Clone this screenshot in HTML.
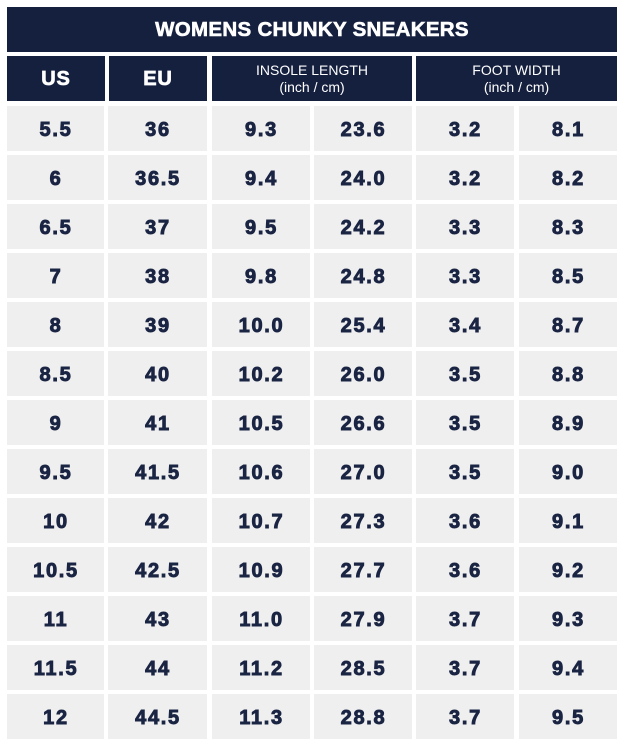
<!DOCTYPE html>
<html><head><meta charset="utf-8"><style>
html,body{margin:0;padding:0;background:#fff;}
body{width:623px;height:745px;position:relative;overflow:hidden;font-family:"Liberation Sans",Arial,sans-serif;}
.n{position:absolute;background:#15203f;color:#fff;display:flex;align-items:center;justify-content:center;text-align:center;}
.t{font-weight:bold;font-size:20.5px;letter-spacing:0.3px;-webkit-text-stroke:0.6px #fff;}
.h{font-weight:bold;font-size:20px;letter-spacing:0.8px;-webkit-text-stroke:0.7px #fff;padding-top:2px;box-sizing:border-box;}
.s{font-size:14px;line-height:17px;font-weight:normal;}
.c{position:absolute;background:#efefef;color:#1a2443;display:flex;align-items:center;justify-content:center;font-weight:bold;font-size:20px;letter-spacing:1.7px;-webkit-text-stroke:0.9px #1a2443;padding-top:4px;padding-left:1px;box-sizing:border-box;height:45px;}
</style></head><body>
<div class="n t" style="left:7px;top:7px;width:610px;height:45px;">WOMENS CHUNKY SNEAKERS</div>
<div class="n h" style="left:7px;top:56px;width:98px;height:45px;">US</div>
<div class="n h" style="left:109px;top:56px;width:98px;height:45px;">EU</div>
<div class="n s" style="left:212px;top:56px;width:200px;height:45px;">INSOLE LENGTH<br>(inch / cm)</div>
<div class="n s" style="left:416px;top:56px;width:201px;height:45px;">FOOT WIDTH<br>(inch / cm)</div>
<div class="c" style="left:7px;top:106px;width:97px">5.5</div><div class="c" style="left:108px;top:106px;width:99px">36</div><div class="c" style="left:212px;top:106px;width:98px">9.3</div><div class="c" style="left:314px;top:106px;width:98px">23.6</div><div class="c" style="left:416px;top:106px;width:98px">3.2</div><div class="c" style="left:519px;top:106px;width:98px">8.1</div>
<div class="c" style="left:7px;top:155px;width:97px">6</div><div class="c" style="left:108px;top:155px;width:99px">36.5</div><div class="c" style="left:212px;top:155px;width:98px">9.4</div><div class="c" style="left:314px;top:155px;width:98px">24.0</div><div class="c" style="left:416px;top:155px;width:98px">3.2</div><div class="c" style="left:519px;top:155px;width:98px">8.2</div>
<div class="c" style="left:7px;top:204px;width:97px">6.5</div><div class="c" style="left:108px;top:204px;width:99px">37</div><div class="c" style="left:212px;top:204px;width:98px">9.5</div><div class="c" style="left:314px;top:204px;width:98px">24.2</div><div class="c" style="left:416px;top:204px;width:98px">3.3</div><div class="c" style="left:519px;top:204px;width:98px">8.3</div>
<div class="c" style="left:7px;top:253px;width:97px">7</div><div class="c" style="left:108px;top:253px;width:99px">38</div><div class="c" style="left:212px;top:253px;width:98px">9.8</div><div class="c" style="left:314px;top:253px;width:98px">24.8</div><div class="c" style="left:416px;top:253px;width:98px">3.3</div><div class="c" style="left:519px;top:253px;width:98px">8.5</div>
<div class="c" style="left:7px;top:302px;width:97px">8</div><div class="c" style="left:108px;top:302px;width:99px">39</div><div class="c" style="left:212px;top:302px;width:98px">10.0</div><div class="c" style="left:314px;top:302px;width:98px">25.4</div><div class="c" style="left:416px;top:302px;width:98px">3.4</div><div class="c" style="left:519px;top:302px;width:98px">8.7</div>
<div class="c" style="left:7px;top:351px;width:97px">8.5</div><div class="c" style="left:108px;top:351px;width:99px">40</div><div class="c" style="left:212px;top:351px;width:98px">10.2</div><div class="c" style="left:314px;top:351px;width:98px">26.0</div><div class="c" style="left:416px;top:351px;width:98px">3.5</div><div class="c" style="left:519px;top:351px;width:98px">8.8</div>
<div class="c" style="left:7px;top:400px;width:97px">9</div><div class="c" style="left:108px;top:400px;width:99px">41</div><div class="c" style="left:212px;top:400px;width:98px">10.5</div><div class="c" style="left:314px;top:400px;width:98px">26.6</div><div class="c" style="left:416px;top:400px;width:98px">3.5</div><div class="c" style="left:519px;top:400px;width:98px">8.9</div>
<div class="c" style="left:7px;top:449px;width:97px">9.5</div><div class="c" style="left:108px;top:449px;width:99px">41.5</div><div class="c" style="left:212px;top:449px;width:98px">10.6</div><div class="c" style="left:314px;top:449px;width:98px">27.0</div><div class="c" style="left:416px;top:449px;width:98px">3.5</div><div class="c" style="left:519px;top:449px;width:98px">9.0</div>
<div class="c" style="left:7px;top:498px;width:97px">10</div><div class="c" style="left:108px;top:498px;width:99px">42</div><div class="c" style="left:212px;top:498px;width:98px">10.7</div><div class="c" style="left:314px;top:498px;width:98px">27.3</div><div class="c" style="left:416px;top:498px;width:98px">3.6</div><div class="c" style="left:519px;top:498px;width:98px">9.1</div>
<div class="c" style="left:7px;top:547px;width:97px">10.5</div><div class="c" style="left:108px;top:547px;width:99px">42.5</div><div class="c" style="left:212px;top:547px;width:98px">10.9</div><div class="c" style="left:314px;top:547px;width:98px">27.7</div><div class="c" style="left:416px;top:547px;width:98px">3.6</div><div class="c" style="left:519px;top:547px;width:98px">9.2</div>
<div class="c" style="left:7px;top:596px;width:97px">11</div><div class="c" style="left:108px;top:596px;width:99px">43</div><div class="c" style="left:212px;top:596px;width:98px">11.0</div><div class="c" style="left:314px;top:596px;width:98px">27.9</div><div class="c" style="left:416px;top:596px;width:98px">3.7</div><div class="c" style="left:519px;top:596px;width:98px">9.3</div>
<div class="c" style="left:7px;top:645px;width:97px">11.5</div><div class="c" style="left:108px;top:645px;width:99px">44</div><div class="c" style="left:212px;top:645px;width:98px">11.2</div><div class="c" style="left:314px;top:645px;width:98px">28.5</div><div class="c" style="left:416px;top:645px;width:98px">3.7</div><div class="c" style="left:519px;top:645px;width:98px">9.4</div>
<div class="c" style="left:7px;top:694px;width:97px">12</div><div class="c" style="left:108px;top:694px;width:99px">44.5</div><div class="c" style="left:212px;top:694px;width:98px">11.3</div><div class="c" style="left:314px;top:694px;width:98px">28.8</div><div class="c" style="left:416px;top:694px;width:98px">3.7</div><div class="c" style="left:519px;top:694px;width:98px">9.5</div>
</body></html>
